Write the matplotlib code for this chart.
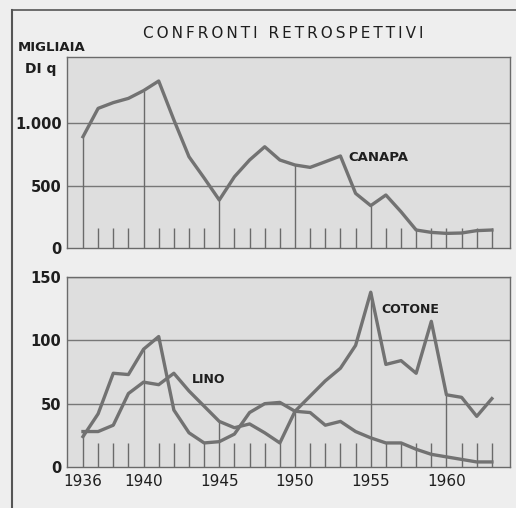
import matplotlib.pyplot as plt
from matplotlib.lines import Line2D

# dati (migliaia di quintali)
anni = list(range(1936, 1964))
canapa = [890, 1117, 1163, 1197, 1259, 1336, 1025, 730, 560, 384, 570, 704, 810, 704,
          664, 645, 690, 736, 437, 339, 424, 290, 144, 125, 117, 120, 139, 144]
cotone = [24, 42, 74, 73, 93, 103, 45, 27, 19, 20, 26, 43, 50, 51,
          44, 56, 68, 78, 96, 138, 81, 84, 74, 115, 57, 55, 40, 54]
lino = [28, 28, 33, 58, 67, 65, 74, 60, 48, 36, 31, 34, 27, 19,
        44, 43, 33, 36, 28, 23, 19, 19, 14, 10, 8, 6, 4, 4]
anni_etichetta = [1936, 1940, 1945, 1950, 1955, 1960]
tick_sopra = [0, 500, 1000]
tick_sotto = [0, 50, 100, 150]

grigio = '#727272'
testo = '#1e1e1e'
plt.rcParams['font.family'] = ['DejaVu Sans']

fig = plt.figure(figsize=(5.16, 5.08), dpi=100, facecolor='#eeeeee')
ax1 = fig.add_axes([0.130, 0.5118, 0.8585, 0.376])
ax2 = fig.add_axes([0.130, 0.0807, 0.8585, 0.374])


def prepara(ax, ymax, ticks, etichette):
    ax.set_facecolor('#dedede')
    ax.set_xlim(1934.95, 1964.2)
    ax.set_ylim(0, ymax)
    for s in ax.spines.values():
        s.set_color('#6a6a6a')
        s.set_linewidth(1.0)
    ax.set_yticks(ticks)
    ax.set_yticklabels(etichette, fontsize=10.5, fontweight='bold', color=testo)
    ax.tick_params(axis='y', length=0, pad=4)
    ax.tick_params(axis='x', length=0)
    for t in ticks[1:]:
        ax.axhline(t, color='#777777', lw=1.0, zorder=1)


prepara(ax1, 1528, tick_sopra, ['0', '500', '1.000'])
prepara(ax2, 150, tick_sotto, ['0', '50', '100', '150'])

# trattini verticali e linee di richiamo
alto1 = [max(v, 160) if a in anni_etichetta else 160 for a, v in zip(anni, canapa)]
ax1.vlines(anni, 0, alto1, color='#6a6a6a', lw=1.0, zorder=2)
mx = [max(c, l) for c, l in zip(cotone, lino)]
alto2 = [max(v, 19) if a in anni_etichetta else 19 for a, v in zip(anni, mx)]
ax2.vlines(anni, 0, alto2, color='#6a6a6a', lw=1.0, zorder=2)

ax1.plot(anni, canapa, color=grigio, lw=2.4, zorder=3, solid_joinstyle='round')
ax2.plot(anni, cotone, color=grigio, lw=2.4, zorder=3, solid_joinstyle='round')
ax2.plot(anni, lino, color=grigio, lw=2.4, zorder=3, solid_joinstyle='round')

ax1.set_xticks([])
ax2.set_xticks(anni_etichetta)
ax2.set_xticklabels([str(a) for a in anni_etichetta], fontsize=11, color=testo)
ax2.tick_params(axis='x', pad=5)

ax1.text(1953.5, 728, 'CANAPA', fontsize=9.5, fontweight='bold', color=testo, va='center')
ax2.text(1955.7, 124, 'COTONE', fontsize=9, fontweight='bold', color=testo, va='center')
ax2.text(1943.2, 69, 'LINO', fontsize=9, fontweight='bold', color=testo, va='center')

titolo = '\u2009'.join('CONFRONTI') + '\u2009\u2009 ' + '\u2009'.join('RETROSPETTIVI')
fig.text(283 / 516, 1 - 33 / 508, titolo, fontsize=11,
         ha='center', va='center', color=testo)
fig.text(18 / 516, 1 - 47 / 508, 'MIGLIAIA', fontsize=9.5, fontweight='bold',
         ha='left', va='center', color=testo)
fig.text(25 / 516, 1 - 69 / 508, 'DI q', fontsize=10, fontweight='bold',
         ha='left', va='center', color=testo)

# cornice esterna
fig.add_artist(Line2D([12 / 516, 12 / 516], [0, 1 - 10 / 508], color='#555555', lw=1.5))
fig.add_artist(Line2D([12 / 516, 1], [1 - 10 / 508, 1 - 10 / 508], color='#555555', lw=1.2))

fig.savefig('out.png', dpi=100, facecolor=fig.get_facecolor())
